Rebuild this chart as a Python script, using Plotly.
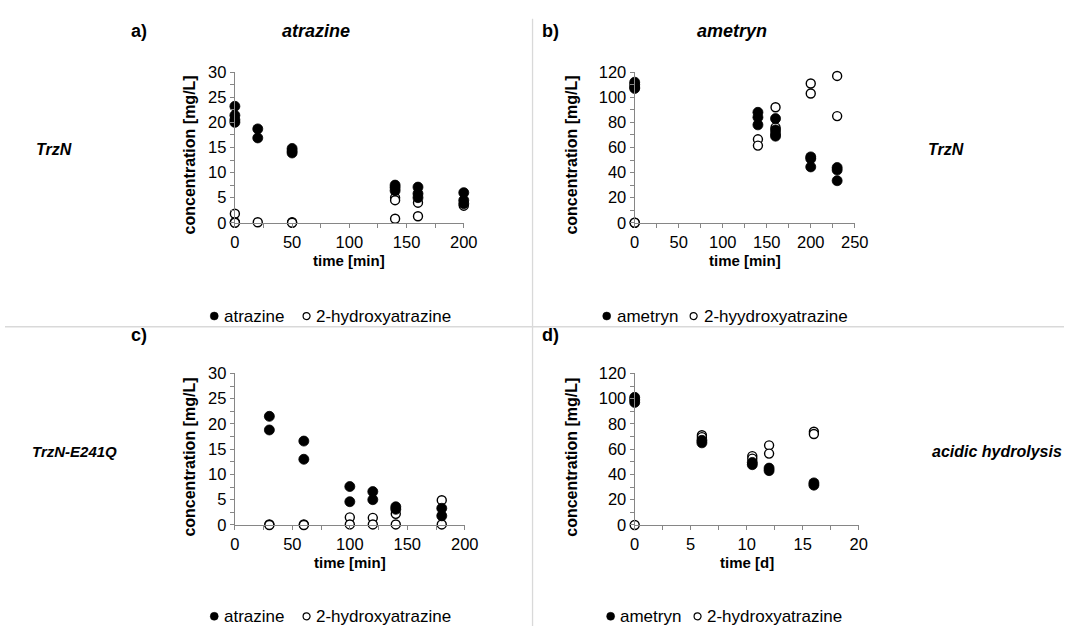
import plotly.graph_objects as go

# ---------------- data ----------------
# panel a: atrazine, TrzN (time in min, concentration mg/L)
a_atr_t = [0, 0, 0, 0, 20, 20, 50, 50, 50, 140, 140, 140, 160, 160, 160, 200, 200, 200]
a_atr_c = [23.2, 21.4, 20.5, 20.0, 18.7, 16.9, 14.8, 14.3, 13.9, 7.5, 7.0, 6.4, 7.1, 5.8, 5.0, 6.0, 4.5, 3.8]
a_hyd_t = [0, 0, 0, 20, 50, 50, 140, 140, 140, 160, 160, 200]
a_hyd_c = [1.8, 0.1, 0.0, 0.1, 0.1, 0.0, 5.0, 4.5, 0.8, 4.0, 1.3, 3.4]

# panel b: ametryn, TrzN
b_ame_t = [0, 0, 0, 0, 140, 140, 140, 160, 160, 160, 160, 200, 200, 200, 230, 230, 230]
b_ame_c = [112, 110, 108, 107, 88, 84, 78, 83, 74, 71, 69, 52.5, 51, 44.5, 44, 42, 33.5]
b_hyd_t = [0, 0, 140, 140, 160, 160, 200, 200, 230, 230]
b_hyd_c = [0, 0, 66.5, 61.5, 92, 76, 111, 103, 117, 85]

# panel c: atrazine, TrzN-E241Q
c_atr_t = [30, 30, 60, 60, 100, 100, 120, 120, 140, 140, 180, 180]
c_atr_c = [21.5, 18.8, 16.6, 13.0, 7.6, 4.6, 6.6, 5.0, 3.6, 3.1, 3.3, 1.8]
c_hyd_t = [30, 30, 60, 60, 100, 100, 120, 120, 140, 140, 180, 180]
c_hyd_c = [0.1, 0.0, 0.1, 0.0, 1.5, 0.1, 1.4, 0.1, 2.2, 0.1, 4.9, 0.1]

# panel d: ametryn, acidic hydrolysis (time in d)
d_ame_t = [0, 0, 0, 6, 6, 10.5, 10.5, 12, 12, 16, 16]
d_ame_c = [101, 99, 97, 67, 65, 49.5, 47.7, 45, 43, 33.3, 31.5]
d_hyd_t = [0, 6, 6, 10.5, 10.5, 12, 12, 16, 16]
d_hyd_c = [0, 71, 69.5, 54.5, 52.5, 63, 56.5, 73.8, 72]

legend_a = ["atrazine", "2-hydroxyatrazine"]
legend_b = ["ametryn", "2-hyydroxyatrazine"]
legend_c = ["atrazine", "2-hydroxyatrazine"]
legend_d = ["ametryn", "2-hydroxyatrazine"]

x_titles = ["time [min]", "time [min]", "time [min]", "time [d]"]
y_title = "concentration [mg/L]"

# ---------------- styling ----------------
W, H = 1078, 635
FONT = "Liberation Sans, Arial, sans-serif"
AX = "#868686"


def px(x):
    return x / W


def py(y):
    return 1 - y / H


fig = go.Figure()

filled = dict(symbol="circle", size=10, color="black", line=dict(color="black", width=0.8))
hollow = dict(symbol="circle", size=9, color="white", line=dict(color="black", width=1.4))

panels = [
    ("x", "y", a_atr_t, a_atr_c, a_hyd_t, a_hyd_c, legend_a),
    ("x2", "y2", b_ame_t, b_ame_c, b_hyd_t, b_hyd_c, legend_b),
    ("x3", "y3", c_atr_t, c_atr_c, c_hyd_t, c_hyd_c, legend_c),
    ("x4", "y4", d_ame_t, d_ame_c, d_hyd_t, d_hyd_c, legend_d),
]

for xa, ya, t1, c1, t2, c2, names in panels:
    fig.add_trace(go.Scatter(x=t2, y=c2, mode="markers", marker=hollow, xaxis=xa, yaxis=ya,
                             cliponaxis=False, showlegend=False, name=names[1]))
    fig.add_trace(go.Scatter(x=t1, y=c1, mode="markers", marker=filled, xaxis=xa, yaxis=ya,
                             cliponaxis=False, showlegend=False, name=names[0]))


def axis(dom, rng, dt, mdt, anchor):
    return dict(domain=dom, range=rng, dtick=dt, tick0=0, anchor=anchor,
                showline=True, linecolor=AX, linewidth=1.3,
                ticks="outside", tickcolor=AX, ticklen=4, tickwidth=1.3,
                minor=dict(dtick=mdt, ticks="outside", ticklen=4, tickcolor=AX, tickwidth=1.3),
                showgrid=False, zeroline=False,
                tickfont=dict(size=16.5, color="black", family=FONT))


top_y = [py(220), py(65)]
bot_y = [py(531), py(375)]
left_x = [px(234), px(467)]
left_x3 = [px(234), px(468)]
right_x = [px(641), px(865)]
right_x4 = [px(641), px(869)]

fig.update_layout(
    xaxis=axis(left_x, [0, 200], 50, 25, "y"),
    yaxis=axis(top_y, [0, 30], 5, 2.5, "x"),
    xaxis2=axis(right_x, [0, 250], 50, 25, "y2"),
    yaxis2=axis(top_y, [0, 120], 20, 10, "x2"),
    xaxis3=axis(left_x3, [0, 200], 50, 25, "y3"),
    yaxis3=axis(bot_y, [0, 30], 5, 2.5, "x3"),
    xaxis4=axis(right_x4, [0, 20], 5, 2.5, "y4"),
    yaxis4=axis(bot_y, [0, 120], 20, 10, "x4"),
)

# axis titles
for xc, yc in [(188, 150), (577, 150), (188, 461), (577, 461)]:
    fig.add_annotation(text="<b>%s</b>" % y_title, x=px(xc), y=py(yc),
                       xref="paper", yref="paper", showarrow=False, textangle=-90,
                       xanchor="center", yanchor="middle",
                       font=dict(size=16, color="black", family=FONT))
for txt, (xc, yc) in zip(x_titles, [(350.5, 259), (753, 259), (351, 570), (755, 570)]):
    fig.add_annotation(text="<b>%s</b>" % txt, x=px(xc), y=py(yc),
                       xref="paper", yref="paper", showarrow=False,
                       xanchor="center", yanchor="middle",
                       font=dict(size=15, color="black", family=FONT))

# legends (symbols + text)
legend_rows = [
    (legend_a, 213, 307, 316),
    (legend_b, 612.5, 701, 316),
    (legend_c, 213, 307, 625),
    (legend_d, 616.5, 705, 625),
]
for names, xs1, xs2, yc in legend_rows:
    fig.add_shape(type="circle", xref="paper", yref="paper", xsizemode="pixel", ysizemode="pixel",
                  xanchor=px(xs1), yanchor=py(yc), x0=-4, x1=4, y0=-4, y1=4,
                  fillcolor="black", line=dict(color="black", width=0.5))
    fig.add_shape(type="circle", xref="paper", yref="paper", xsizemode="pixel", ysizemode="pixel",
                  xanchor=px(xs2), yanchor=py(yc), x0=-3.5, x1=3.5, y0=-3.5, y1=3.5,
                  fillcolor="white", line=dict(color="black", width=1.2))
    for nm, xs in [(names[0], xs1), (names[1], xs2)]:
        fig.add_annotation(text=nm, x=px(xs + 8), y=py(yc), xref="paper", yref="paper",
                           showarrow=False, xanchor="left", yanchor="middle",
                           font=dict(size=17, color="black", family=FONT))

annots = [
    ("<b>a)</b>", 136, 23, 18),
    ("<b><i>atrazine</i></b>", 317, 23, 18),
    ("<b>b)</b>", 555, 23, 18),
    ("<b><i>ametryn</i></b>", 740, 23, 18),
    ("<b>c)</b>", 136, 336, 18),
    ("<b>d)</b>", 555, 336, 18),
    ("<b><i>TrzN</i></b>", 50, 145, 16),
    ("<b><i>TrzN</i></b>", 958, 145, 16),
    ("<b><i>TrzN-E241Q</i></b>", 71, 455, 15),
    ("<b><i>acidic hydrolysis</i></b>", 1010, 455, 16),
]
for txt, x, y, fs in annots:
    fig.add_annotation(text=txt, x=px(x), y=py(y), xref="paper", yref="paper",
                       showarrow=False, xanchor="center", yanchor="middle",
                       font=dict(size=fs, color="black", family=FONT))

# separator lines
fig.add_shape(type="line", xref="paper", yref="paper", x0=0, x1=1, y0=py(327), y1=py(327),
              line=dict(color="#d9d9d9", width=1.3))
fig.add_shape(type="line", xref="paper", yref="paper", x0=px(537), x1=px(537), y0=py(10), y1=0,
              line=dict(color="#d9d9d9", width=1.3))

fig.update_layout(width=W, height=H, margin=dict(l=0, r=0, t=0, b=0),
                  paper_bgcolor="white", plot_bgcolor="white", showlegend=False,
                  font=dict(family=FONT, color="black"))

fig.write_html("out.html")
